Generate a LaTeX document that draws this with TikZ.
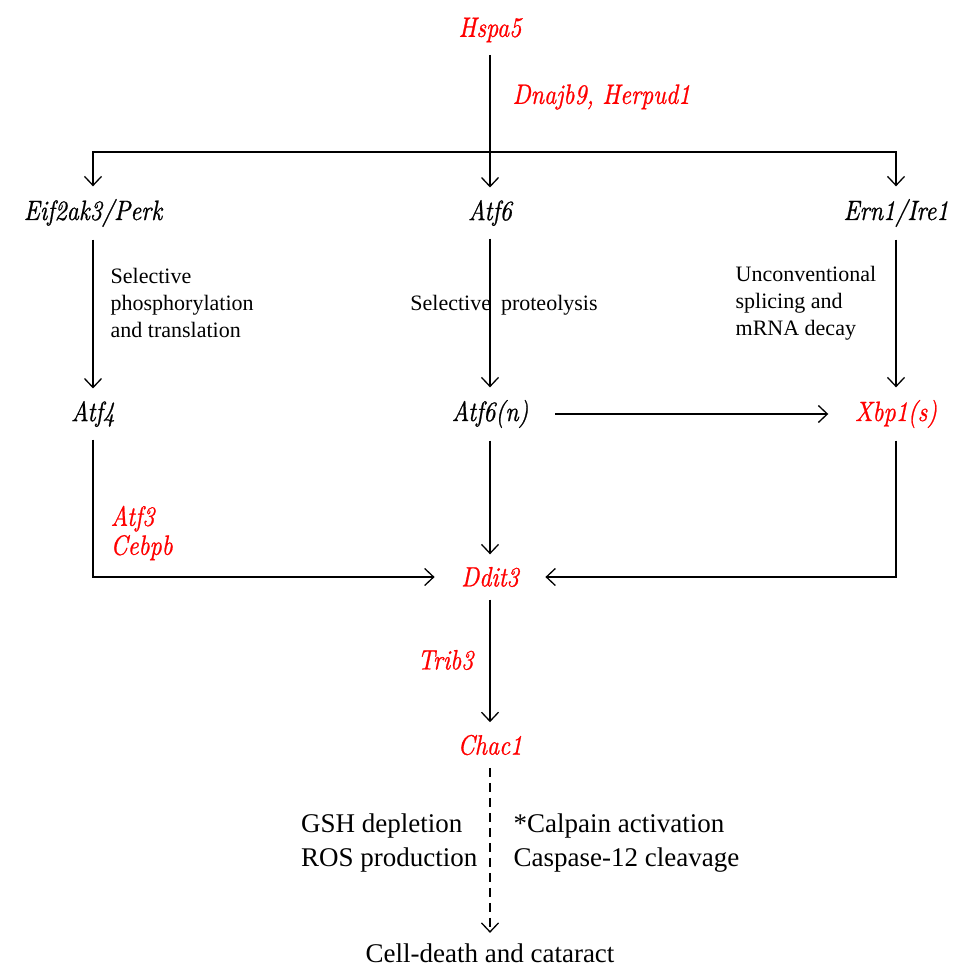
\documentclass[tikz,border=0pt]{standalone}
\usepackage{fontspec}
\setmainfont{Liberation Serif}
\newfontfamily\genefont{lmroman10-italic.otf}[FakeStretch=0.85,FakeBold=0.8]
\usetikzlibrary{arrows.meta,positioning}

\begin{document}
\begin{tikzpicture}[x=1pt,y=-1pt,>={Straight Barb[length=9pt,width=17pt]},line width=1.3pt,
  gene/.style={inner xsep=26pt,inner ysep=12pt,font=\genefont\fontsize{28}{29}\selectfont},
  note/.style={inner sep=0pt,align=left,font=\fontsize{22}{27}\selectfont},
  outcome/.style={inner sep=0pt,align=left,font=\fontsize{27}{34}\selectfont}]
\useasboundingbox (0,0) rectangle (952,973);
% genes
\node[gene,red] (hspa5) at (490,30) {Hspa5};
\node[gene] (perk) at (93,213) {Eif2ak3/Perk};
\node[gene] (atf6) at (490,213) {Atf6};
\node[gene] (ire1) at (896,213) {Ern1/Ire1};
\node[gene] (atf4) at (93,414) {Atf4};
\node[gene] (atf6n) at (490,414) {Atf6(n)};
\node[gene,red] (xbp1) at (896,414) {Xbp1(s)};
\node[gene,red] (ddit3) at (490,577) {Ddit3};
\node[gene,red] (chac1) at (490,745) {Chac1};
\node[outcome,inner ysep=10pt] (death) at (490,953) {Cell-death and cataract};
\coordinate (split) at (490,152);
% labels
\node[gene,red,inner sep=0pt,anchor=west] (dnaj) at (512,97) {Dnajb9, Herpud1};
\node[note,anchor=west] (phos) at (110,303) {Selective\\phosphorylation\\and translation};
\node[note] (prot) at (504,305) {Selective\hspace{10pt}proteolysis};
\node[note,anchor=west] (splice) at (735,303) {Unconventional\\splicing and\\mRNA decay};
\node[gene,red,inner sep=0pt,anchor=west,align=left] (cebpb) at (110,533) {Atf3\\Cebpb};
\node[gene,red,inner sep=0pt,anchor=east] (trib3) at (474,660) {Trib3};
\node[outcome,anchor=east] (gsh) at (478,843) {GSH depletion\\ROS production};
\node[outcome,anchor=west] (calp) at (513,843) {*Calpain activation\\Caspase-12 cleavage};
% connectors
\draw (hspa5) -- (split);
\draw[->] (split) -- (atf6);
\draw[->] (split) -| (perk);
\draw[->] (split) -| (ire1);
\draw[->] (perk) -- (atf4);
\draw[->] (atf6) -- (atf6n);
\draw[->] (ire1) -- (xbp1);
\draw[->] (atf6n) -- (xbp1);
\draw[->] (atf6n) -- (ddit3);
\draw[->] (atf4) |- (ddit3);
\draw[->] (xbp1) |- (ddit3);
\draw[->] (ddit3) -- (chac1);
\draw[->,dashed,dash pattern=on 9pt off 6pt] (chac1) -- (death);
\end{tikzpicture}
\end{document}
